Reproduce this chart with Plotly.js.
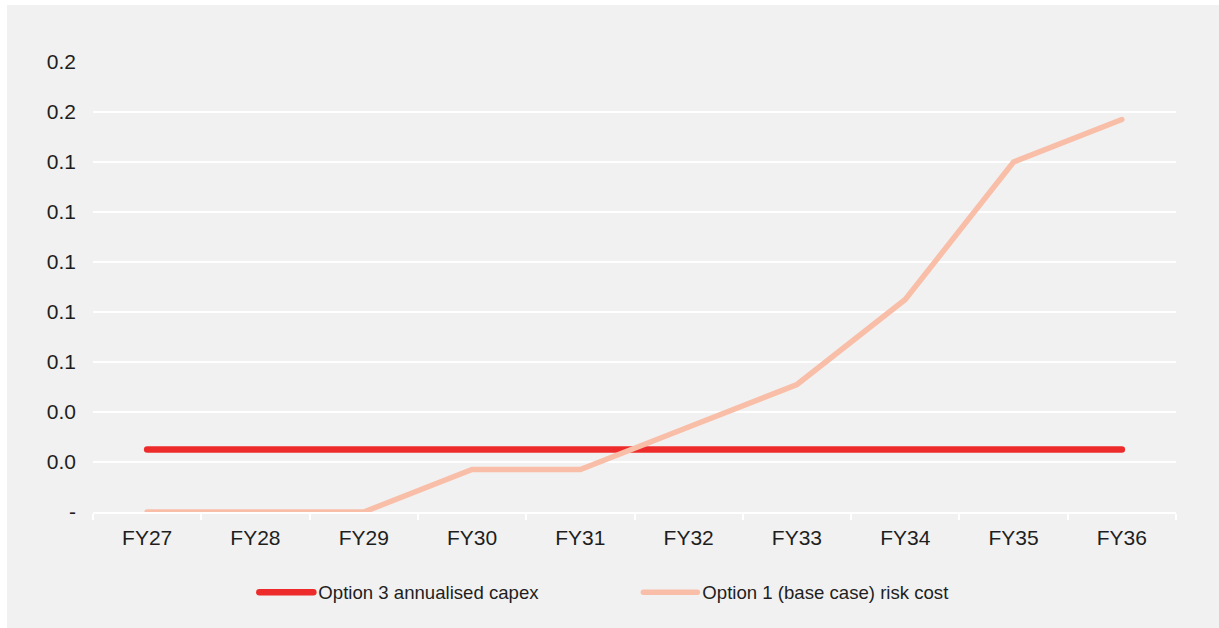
<!DOCTYPE html>
<html>
<head>
<meta charset="utf-8">
<script src="https://cdn.plot.ly/plotly-3.0.1.min.js"></script>
<style>
  html, body { margin: 0; padding: 0; background: #ffffff; }
  #chart { position: absolute; left: 7px; top: 5px; width: 1212px; height: 623px; }
</style>
</head>
<body>
<div id="chart"></div>
<script>
// Financial years on the horizontal axis
const categories = ['FY27', 'FY28', 'FY29', 'FY30', 'FY31', 'FY32', 'FY33', 'FY34', 'FY35', 'FY36'];

// Option 3: flat annualised capital cost
const option3Capex = [0.025, 0.025, 0.025, 0.025, 0.025, 0.025, 0.025, 0.025, 0.025, 0.025];

// Option 1 (base case): growing risk cost
const option1Risk = [0, 0, 0, 0.017, 0.017, 0.034, 0.051, 0.085, 0.140, 0.157];

// Y-axis ticks, labelled to one decimal place
const yTickVals = [0, 0.02, 0.04, 0.06, 0.08, 0.10, 0.12, 0.14, 0.16, 0.18];
const yTickText = ['-', '0.0', '0.0', '0.1', '0.1', '0.1', '0.1', '0.1', '0.2', '0.2'];

const FONT = 'Liberation Sans, Arial, sans-serif';
const TEXT_COLOR = '#1E1E1E';

const traces = [
  {
    x: categories,
    y: option3Capex,
    type: 'scatter',
    mode: 'lines',
    name: 'Option 3 annualised capex',
    line: { color: '#EE2B2B', width: 6.5 }
  },
  {
    x: categories,
    y: option1Risk,
    type: 'scatter',
    mode: 'lines',
    name: 'Option 1 (base case) risk cost',
    line: { color: '#F9BEA8', width: 5.5 }
  }
];

const layout = {
  width: 1212,
  height: 623,
  paper_bgcolor: '#F1F1F1',
  plot_bgcolor: '#F1F1F1',
  margin: { l: 86, r: 43, t: 57, b: 116 },
  font: { family: FONT, size: 21, color: TEXT_COLOR },
  showlegend: true,
  legend: {
    orientation: 'h',
    x: 0.149,
    xanchor: 'left',
    y: -0.179,
    yanchor: 'middle',
    font: { family: FONT, size: 18.6, color: TEXT_COLOR },
    bgcolor: 'rgba(0,0,0,0)',
    itemwidth: 54,
    entrywidth: 315,
    tracegroupgap: 0
  },
  xaxis: {
    type: 'category',
    range: [-0.5, 9.5],
    showgrid: false,
    showline: true,
    linecolor: '#FFFFFF',
    linewidth: 2,
    ticks: 'outside',
    tickson: 'boundaries',
    ticklen: 6,
    tickcolor: '#FFFFFF',
    tickwidth: 2,
    ticklabelstandoff: 6,
    tickfont: { family: FONT, size: 21, color: TEXT_COLOR },
    zeroline: false,
    fixedrange: true
  },
  yaxis: {
    range: [0, 0.18],
    tickvals: yTickVals,
    ticktext: yTickText,
    showgrid: true,
    gridcolor: '#FFFFFF',
    gridwidth: 2,
    zeroline: false,
    showline: false,
    ticks: '',
    ticklabelstandoff: 16,
    tickfont: { family: FONT, size: 21, color: TEXT_COLOR },
    fixedrange: true
  }
};

Plotly.newPlot('chart', traces, layout, { staticPlot: true, displayModeBar: false }).then(function (gd) {
  // Rounded ends on the series lines and their legend samples
  gd.querySelectorAll('.scatterlayer .js-line, .legendlines path').forEach(function (p) {
    p.style.strokeLinecap = 'round';
  });
});
</script>
</body>
</html>
